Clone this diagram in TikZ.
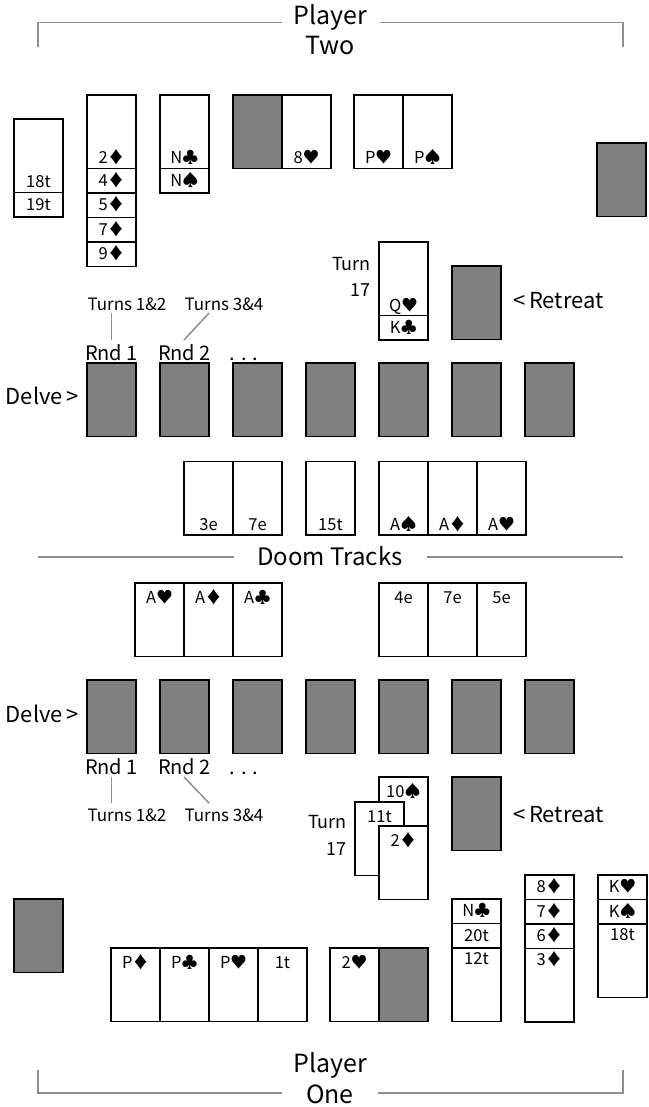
\documentclass[tikz,border=0pt]{standalone}
\usepackage{fontspec}
\setmainfont{Noto Sans CJK SC}
\definecolor{cardgrey}{HTML}{808080}
\definecolor{linegrey}{HTML}{8E8E8E}
\newcommand\cardfont{\fontsize{16.5}{16.5}\selectfont}
\newcommand\cardB[4]{\node[card] (#1) at (#2,#3) {}; \node[lbl,yshift=4.5pt] (#1t) at (#1.south) {#4};}
\newcommand\cardT[4]{\node[card] (#1) at (#2,#3) {}; \node[lbl,yshift=-20pt] (#1t) at (#1.north) {#4};}
\newcommand\cardS[4]{\node[card] (#1) at (#2,#3) {}; \node[lbl,yshift=-16.5pt] (#1t) at (#1.north) {#4};}
\newcommand\stripN[4]{\node[strip] (#1) at (#2,#3) {#4};}
\begin{document}
\begin{tikzpicture}[x=1pt,y=-1pt,
  card/.style={draw=black, line width=1.5pt, fill=white, minimum width=49pt, minimum height=73.5pt, anchor=north west, inner sep=0pt, outer sep=0pt},
  back/.style={card, fill=cardgrey},
  strip/.style={card, minimum height=24.5pt, font=\cardfont, text height=11pt, text depth=0pt},
  lbl/.style={anchor=base, inner sep=0pt, font=\cardfont},
  guide/.style={draw=linegrey, line width=1.5pt},
  title/.style={anchor=base, inner sep=0pt, font=\fontsize{25}{25}\selectfont},
  big/.style={inner sep=0pt, font=\fontsize{22}{22}\selectfont},
  rnd/.style={anchor=base, inner sep=0pt, font=\fontsize{20}{20}\selectfont},
  turns/.style={anchor=base, inner sep=0pt, font=\fontsize{17}{17}\selectfont},
  turnlbl/.style={anchor=base east, inner sep=0pt, font=\fontsize{18}{18}\selectfont}]
\useasboundingbox (0,0) rectangle (648,1107);

% ---------- Player Two ----------
\node[title] (p2a) at (330,25) {Player};
\node[title] (p2b) at (330,55) {Two};
\coordinate (b2l) at (38,47.5); \coordinate (b2lt) at (38,22.5);
\coordinate (b2r) at (623,47.5); \coordinate (b2rt) at (623,22.5);
\draw[guide] (b2l) -- (b2lt) -- (282,22.5);
\draw[guide] (380,22.5) -- (b2rt) -- (b2r);

\cardB{a1}{14}{119}{18t}
\stripN{a1s}{14}{192.5}{19t}
\cardB{a2}{87}{95}{2♦}
\stripN{a2a}{87}{168.5}{4♦}
\stripN{a2b}{87}{193}{5♦}
\stripN{a2c}{87}{217.5}{7♦}
\stripN{a2d}{87}{242}{9♦}
\cardB{a3}{160}{95}{N♣}
\stripN{a3s}{160}{168.5}{N♠}
\node[back] (a4) at (233,95) {};
\cardB{a5}{282}{95}{8♥}
\cardB{a6}{354}{95}{P♥}
\cardB{a7}{403}{95}{P♠}
\node[back] (a8) at (597,143) {};

\cardB{tq}{379}{242}{Q♥}
\stripN{tk}{379}{315.5}{K♣}
\node[turnlbl] (turnA) at (371,270.5) {Turn};
\node[turnlbl] (turnA2) at (371,296.5) {17};
\node[back] (retA) at (452,266) {};
\node[big, anchor=base west] (retAt) at (513,308) {<\,Retreat};

\node[turns] (tu1) at (127,310) {Turns 1\&2};
\node[turns] (tu2) at (224,310) {Turns 3\&4};
\coordinate (l1a) at (111.5,313); \coordinate (l1b) at (111.5,340);
\coordinate (l2a) at (209,313); \coordinate (l2b) at (184,340);
\draw[guide] (l1a) -- (l1b);
\draw[guide] (l2a) -- (l2b);
\node[rnd] (r1) at (111.5,360) {Rnd 1};
\node[rnd] (r2) at (184.5,360) {Rnd 2};
\node[rnd] (r3) at (244,360) {. . .};

\node[big, anchor=base east] (dA) at (79,404) {Delve\,>};
\foreach \i in {0,...,6} \node[back] (d\i) at ({87+73*\i},363) {};

\cardB{m1}{184}{461.5}{3e}
\cardB{m2}{233}{461.5}{7e}
\cardB{m3}{306}{461.5}{15t}
\cardB{m4}{379}{461.5}{A♠}
\cardB{m5}{428}{461.5}{A♦}
\cardB{m6}{477}{461.5}{A♥}

% ---------- Doom Tracks ----------
\node[anchor=base, inner sep=0pt, font=\fontsize{24}{24}\selectfont] (doom) at (330,565) {Doom Tracks};
\coordinate (dl1) at (38,557); \coordinate (dl2) at (234,557);
\coordinate (dr1) at (427,557); \coordinate (dr2) at (623,557);
\draw[guide] (dl1) -- (dl2);
\draw[guide] (dr1) -- (dr2);

\cardT{n1}{135}{583}{A♥}
\cardT{n2}{184}{583}{A♦}
\cardT{n3}{233}{583}{A♣}
\cardT{n4}{379}{583}{4e}
\cardT{n5}{428}{583}{7e}
\cardT{n6}{477}{583}{5e}

\node[big, anchor=base east] (dB) at (79,722) {Delve\,>};
\foreach \i in {0,...,6} \node[back] (e\i) at ({87+73*\i},680) {};
\node[rnd] (s1) at (111.5,774) {Rnd 1};
\node[rnd] (s2) at (184.5,774) {Rnd 2};
\node[rnd] (s3) at (244,774) {. . .};
\coordinate (k1a) at (111.5,777); \coordinate (k1b) at (111.5,803);
\coordinate (k2a) at (184,777); \coordinate (k2b) at (209,803);
\draw[guide] (k1a) -- (k1b);
\draw[guide] (k2a) -- (k2b);
\node[turns] (tv1) at (127,821.5) {Turns 1\&2};
\node[turns] (tv2) at (224,821.5) {Turns 3\&4};

\cardT{q1}{379}{777}{10♠}
\cardT{q2}{355}{802}{11t}
\cardT{q3}{379}{826}{2♦}
\node[turnlbl] (turnB) at (347,828) {Turn};
\node[turnlbl] (turnB2) at (347,855) {17};
\node[back] (retB) at (452,777) {};
\node[big, anchor=base west] (retBt) at (513,822) {<\,Retreat};

% ---------- Player One ----------
\node[back] (g1) at (14,899) {};
\stripN{u1}{452}{899}{N♣}
\stripN{u2}{452}{923.5}{20t}
\cardS{u3}{452}{948}{12t}
\stripN{v1}{525}{875}{8♦}
\stripN{v2}{525}{899.5}{7♦}
\stripN{v3}{525}{924}{6♦}
\cardS{v4}{525}{948.5}{3♦}
\stripN{w1}{598}{875}{K♥}
\stripN{w2}{598}{899.5}{K♠}
\cardS{w3}{598}{924}{18t}

\cardT{h1}{111}{948}{P♦}
\cardT{h2}{160}{948}{P♣}
\cardT{h3}{209}{948}{P♥}
\cardT{h4}{258}{948}{1t}
\cardT{h5}{330}{948}{2♥}
\node[back] (h6) at (379,948) {};

\node[title] (p1a) at (330,1072) {Player};
\node[title] (p1b) at (330,1103) {One};
\coordinate (b1l) at (38,1070); \coordinate (b1lb) at (38,1093);
\coordinate (b1r) at (623,1070); \coordinate (b1rb) at (623,1093);
\draw[guide] (b1l) -- (b1lb) -- (282,1093);
\draw[guide] (378,1093) -- (b1rb) -- (b1r);
\end{tikzpicture}
\end{document}
